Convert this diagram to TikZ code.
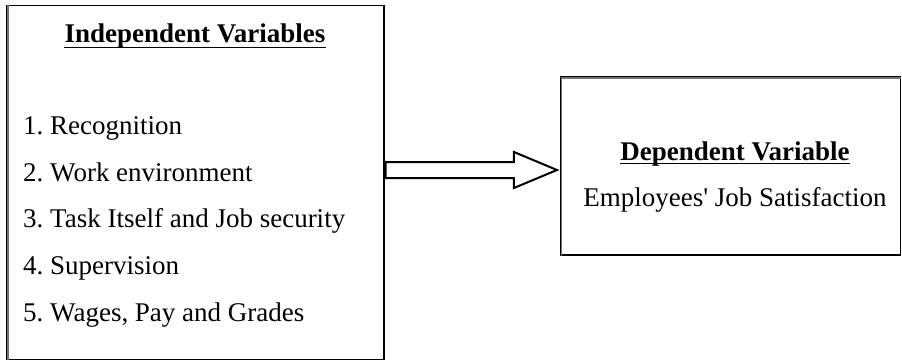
\documentclass[tikz,border=0pt]{standalone}
\usepackage{fontspec}
\setmainfont{Liberation Serif}
\usetikzlibrary{calc}
\frenchspacing
\begin{document}
\begin{tikzpicture}[x=1pt,y=-1pt,
  box/.style={draw=black, line width=1.1pt, fill=white, inner sep=0pt},
  boxshade/.style={draw=black!55, line width=1.4pt},
  txt/.style={inner sep=0pt, font=\fontsize{27}{30}\selectfont},
  ttl/.style={txt, font=\fontsize{27}{30}\selectfont\bfseries},
  uline/.style={line width=1.8pt},
  blockarrow/.style={draw=black, line width=2pt, fill=white, line join=miter}]
\useasboundingbox (0,0) rectangle (902,361);
% left box
\node[box, minimum width=377pt, minimum height=354pt] (L) at (195.5,182.5) {};
\draw[boxshade] ([xshift=1.5pt]L.south west) -- ([xshift=1.5pt]L.north west);
% right box
\node[box, minimum width=340pt, minimum height=178pt] (R) at (730.5,166) {};
\draw[boxshade] ([xshift=1.5pt]R.south west) -- ([xshift=1.5pt,yshift=-1.5pt]R.north west) -- ([yshift=-1.5pt]R.north east);
% titles
\node[ttl, anchor=base] (t1) at (195,43) {Independent Variables};
\draw[uline] ([yshift=-4.5pt]t1.base west) -- ([yshift=-4.5pt]t1.base east);
\node[ttl, anchor=base] (t2) at (735,160) {Dependent Variable};
\draw[uline] ([yshift=-3.5pt]t2.base west) -- ([yshift=-3.5pt]t2.base east);
\node[txt, anchor=base] (dv) at (735,206) {Employees\textquotesingle{} Job Satisfaction};
% list
\node[txt, anchor=base west] (i1) at (23,134) {1. Recognition};
\node[txt, anchor=base west] (i2) at (23,181) {2. Work environment};
\node[txt, anchor=base west] (i3) at (23,227.5) {3. Task Itself and Job security};
\node[txt, anchor=base west] (i4) at (23,274) {4. Supervision};
\node[txt, anchor=base west] (i5) at (23,321) {5. Wages, Pay and Grades};
% block arrow from L to R
\coordinate (as) at (L.east |- 0,170);
\coordinate (ae) at ($(R.west |- 0,170)+(-3,0)$);
\draw[blockarrow] ($(as)+(1,-8)$) -- ($(ae)+(-43,-8)$) -- ($(ae)+(-43,-18)$) -- (ae)
  -- ($(ae)+(-43,18)$) -- ($(ae)+(-43,8)$) -- ($(as)+(1,8)$) -- cycle;
\end{tikzpicture}
\end{document}
